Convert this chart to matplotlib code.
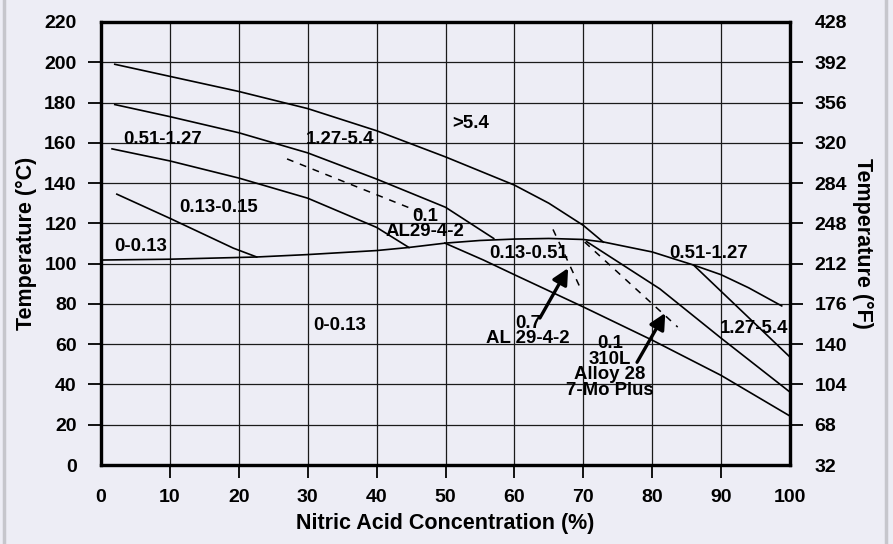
import numpy as np
import matplotlib.pyplot as plt
from matplotlib.lines import Line2D

plt.rcParams['font.family'] = ['Liberation Sans', 'DejaVu Sans']
plt.rcParams['font.weight'] = 'bold'

# axes ticks
x_ticks = [0, 10, 20, 30, 40, 50, 60, 70, 80, 90, 100]
c_ticks = [0, 20, 40, 60, 80, 100, 120, 140, 160, 180, 200, 220]
f_ticks = [32, 68, 104, 140, 176, 212, 248, 284, 320, 356, 392, 428]

# iso-corrosion curves, nitric acid % vs temperature in C
top_x = [2, 10, 20, 30, 40, 50, 60, 65, 70, 72.9]
top_y = [199, 193, 185.5, 177, 166, 153, 139, 130, 119, 110.7]

second_x = [2, 10, 20, 30, 40, 50, 57]
second_y = [179, 173, 165, 155, 142, 128, 112.5]

third_x = [1.6, 10, 20, 30, 40, 44.7]
third_y = [157, 151, 142.5, 132.5, 118, 108]

fourth_x = [2.3, 10, 19.2, 22.6]
fourth_y = [134.5, 122.5, 107.7, 103.3]

hump_x = [0.3, 10, 22.6, 30, 40, 44.6, 50, 55, 60, 65, 70, 73, 80, 86, 90, 94, 98.8]
hump_y = [101.8, 102.2, 103.3, 104.5, 106.5, 108, 110.2, 111.5, 112.2, 112.5, 112,
          110.7, 105.8, 99.3, 94.5, 88, 79]

long_x = [49.9, 55.5, 60, 70, 80, 90, 100]
long_y = [110.2, 101.8, 94.5, 78.5, 62, 44.5, 24.3]

mid_x = [70.5, 81.1, 90, 100]
mid_y = [110.9, 87.5, 63, 36.2]

right_x = [86, 100]
right_y = [99.3, 53.6]

# dashed 0.1 mm/y lines
dash1_x = [27, 46.3]
dash1_y = [152, 125.6]
dash2_x = [70.2, 83.7]
dash2_y = [110.7, 68.5]
dash3_x = [65.6, 69.5]
dash3_y = [117, 88.4]

bg = '#ededf5'
fig = plt.figure(figsize=(8.93, 5.44), dpi=100, facecolor=bg)
ax = fig.add_axes([101/893, 1 - 465/544, 689/893, 443/544])
ax.set_facecolor(bg)

# frame edges of the picture
fig.add_artist(Line2D([4/893, 4/893], [0, 1], color='#c6c6cc', lw=2.5))
fig.add_artist(Line2D([886/893, 886/893], [0, 1], color='#c6c6cc', lw=2.5))

ax.set_xlim(0, 100)
ax.set_ylim(0, 220)
ax.set_xticks(x_ticks)
ax.set_yticks(c_ticks)
ax.grid(True, color='#1a1a1a', lw=0.9)

lk = dict(color='black', lw=1.2)
for xs, ys in [(top_x, top_y), (second_x, second_y), (third_x, third_y),
               (fourth_x, fourth_y), (hump_x, hump_y), (long_x, long_y),
               (mid_x, mid_y), (right_x, right_y)]:
    ax.plot(xs, ys, **lk)
for xs, ys in [(dash1_x, dash1_y), (dash2_x, dash2_y), (dash3_x, dash3_y)]:
    ax.plot(xs, ys, color='black', lw=1.1, linestyle=(0, (4.5, 4.5)))

fs = 13.4
def lab(x, y, s, **kw):
    ax.text(x, y, s, ha='center', va='center', fontsize=fs, fontweight='bold', **kw)

lab(9, 161.4, '0.51-1.27')
lab(34.7, 161.4, '1.27-5.4')
lab(53.7, 169.8, '>5.4')
lab(17, 128, '0.13-0.15')
lab(5.8, 108.7, '0-0.13')
lab(47, 119.7, '0.1\nAL29-4-2', linespacing=0.9)
lab(62, 104.8, '0.13-0.51')
lab(88.2, 104.8, '0.51-1.27')
lab(94.8, 68, '1.27-5.4')
lab(34.7, 69.5, '0-0.13')
lab(62, 66.5, '0.7\nAL 29-4-2', linespacing=0.9)
lab(73.9, 48.7, '0.1\n310L\nAlloy 28\n7-Mo Plus', linespacing=0.9)

ap = dict(arrowstyle='-|>', color='black', lw=2.4, mutation_scale=24,
          shrinkA=0, shrinkB=0)
ax.annotate('', xy=(67.8, 97.8), xytext=(63.7, 73), arrowprops=ap)
ax.annotate('', xy=(81.9, 75.5), xytext=(77.8, 51), arrowprops=ap)

ax2 = ax.twinx()
ax2.set_ylim(32, 428)
ax2.set_yticks(f_ticks)

for a in (ax, ax2):
    for sp in a.spines.values():
        sp.set_linewidth(2.3)
        sp.set_color('black')

ax.tick_params(axis='both', length=9.5, width=1.3, pad=8, labelsize=14)
ax2.tick_params(axis='y', length=9.5, width=1.3, pad=8, labelsize=14)
for t in ax.get_xticklabels() + ax.get_yticklabels() + ax2.get_yticklabels():
    t.set_fontweight('bold')

# no tick marks at the ends of each axis
for tk in (ax.xaxis.get_major_ticks()[0], ax.xaxis.get_major_ticks()[-1],
           ax.yaxis.get_major_ticks()[0], ax.yaxis.get_major_ticks()[-1]):
    tk.tick1line.set_visible(False)
for tk in (ax2.yaxis.get_major_ticks()[0], ax2.yaxis.get_major_ticks()[-1]):
    tk.tick2line.set_visible(False)

ax.set_xlabel('Nitric Acid Concentration (%)', fontsize=15.5, fontweight='bold', labelpad=5)
ax.set_ylabel('Temperature (°C)', fontsize=15.5, fontweight='bold', labelpad=5)
ax2.set_ylabel('Temperature (°F)', fontsize=15.5, fontweight='bold', rotation=270,
               labelpad=19)

fig.savefig('out.png', dpi=100, facecolor=bg)
